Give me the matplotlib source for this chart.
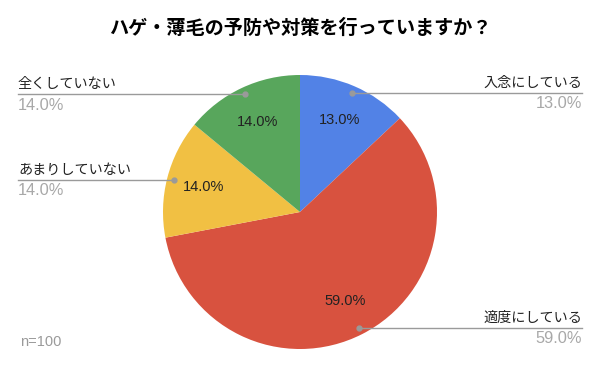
import numpy as np
import matplotlib.pyplot as plt

plt.rcParams['font.family'] = ['Noto Sans CJK JP', 'DejaVu Sans']

# answers, clockwise from 12 o'clock
labels = ["入念にしている", "適度にしている", "あまりしていない", "全くしていない"]
values = [13.0, 59.0, 14.0, 14.0]
colors = ["#5282e6", "#d8523f", "#f1c043", "#58a65c"]
title = "ハゲ・薄毛の予防や対策を行っていますか？"
note = "n=100"

W, H = 600, 375
cx, cy, R = 300, H - 212, 137

fig = plt.figure(figsize=(6, 3.75), dpi=100)
ax = fig.add_axes([0, 0, 1, 1])

wedges, _, autotexts = ax.pie(values, colors=colors, startangle=90, counterclock=False,
                              center=(cx, cy), radius=R, autopct="%.1f%%", pctdistance=0.73,
                              wedgeprops=dict(linewidth=0))
for t in autotexts:
    t.set_family(['Liberation Sans', 'DejaVu Sans'])
    t.set_fontsize(10.5)
    t.set_color("#222222")

# leader lines with labels outside
for w, lab, v in zip(wedges, labels, values):
    mid = np.deg2rad((w.theta1 + w.theta2) / 2)
    dx, dy = cx + 0.95 * R * np.cos(mid), cy + 0.95 * R * np.sin(mid)
    if np.cos(mid) > 0:
        ex, ha = 582, "right"
    else:
        ex, ha = 18, "left"
    ax.plot([dx, ex], [dy, dy], color="#9a9a9a", lw=1)
    ax.plot(dx, dy, "o", color="#9a9a9a", ms=3.5)
    ax.text(ex, dy + 3, lab, ha=ha, va="bottom", fontsize=10.2, color="#222222")
    ax.text(ex, dy - 3.5, "%.1f%%" % v, ha=ha, va="top", fontsize=11.8, color="#a8a8a8",
            family=['Liberation Sans', 'DejaVu Sans'])

ax.text(W / 2, H - 28, title, ha="center", va="center", fontsize=13.8, fontweight="bold")
ax.text(20, H - 342, note, ha="left", va="center", fontsize=10.5, color="#9a9a9a",
        family=['Liberation Sans', 'DejaVu Sans'])

ax.set_xlim(0, W)
ax.set_ylim(0, H)
ax.set_aspect("equal")
ax.axis("off")

plt.savefig("out.png", dpi=100)
